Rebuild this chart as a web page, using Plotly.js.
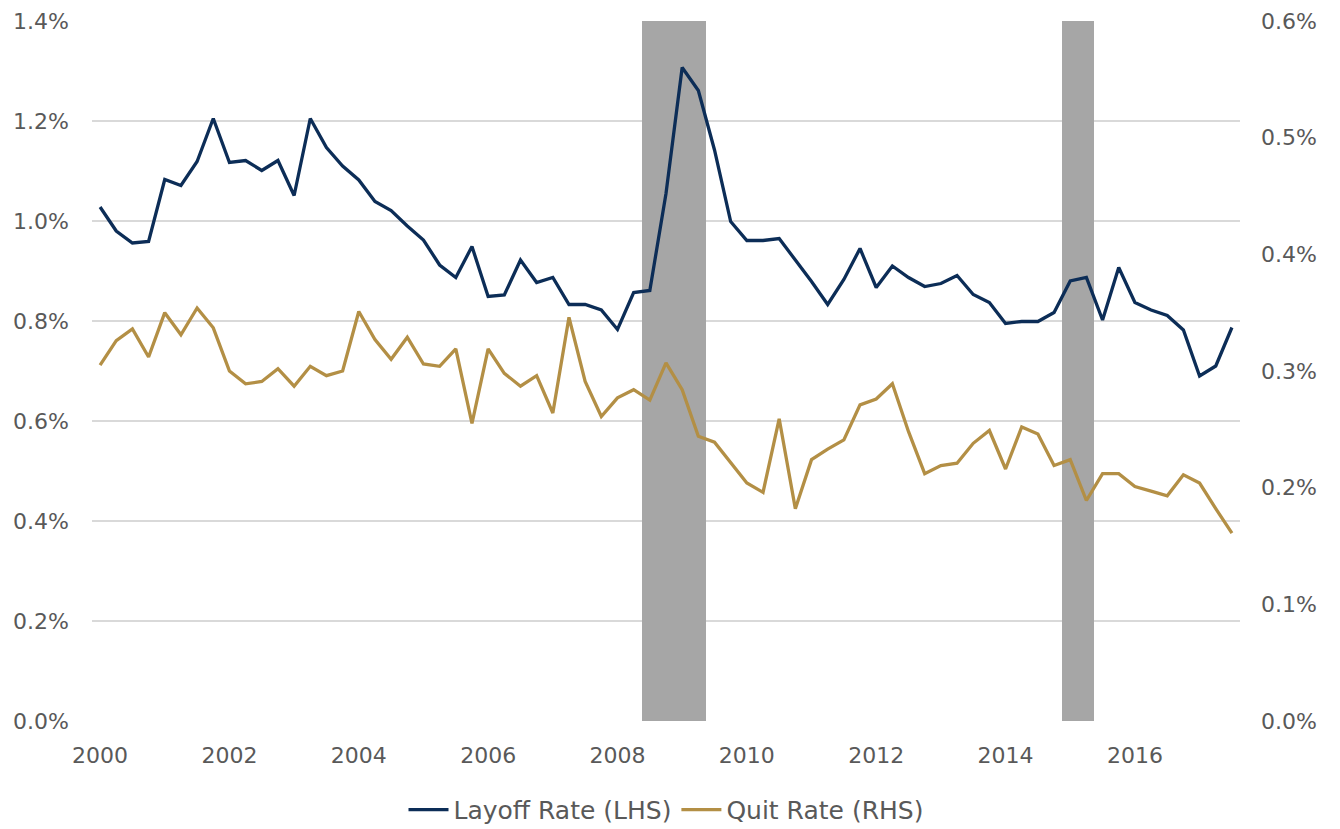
<!DOCTYPE html>
<html>
<head>
<meta charset="utf-8">
<script src="https://cdn.plot.ly/plotly-3.0.1.min.js"></script>
<style>html,body{margin:0;padding:0;background:#fff;}#chart{width:1340px;height:829px;}</style>
</head>
<body>
<div id="chart"></div>
<script>
// Quarterly categories 2000Q1 .. 2017Q3
var quarters = [];
for (var yr = 2000; yr <= 2017; yr++) {
  for (var q = 1; q <= 4; q++) {
    if (yr === 2017 && q > 3) break;
    quarters.push(yr + "Q" + q);
  }
}

// Layoff rate (LHS, %)
var layoffRate = [
  1.028, 0.980, 0.956, 0.959, 1.083, 1.071, 1.119, 1.205, 1.117, 1.121,
  1.101, 1.121, 1.051, 1.205, 1.147, 1.110, 1.082, 1.039, 1.021, 0.990,
  0.962, 0.912, 0.887, 0.949, 0.849, 0.852, 0.922, 0.877, 0.887, 0.833,
  0.833, 0.822, 0.783, 0.857, 0.861, 1.055, 1.307, 1.261, 1.142, 0.999,
  0.961, 0.961, 0.965, 0.922, 0.879, 0.833, 0.883, 0.945, 0.867, 0.910,
  0.887, 0.869, 0.875, 0.891, 0.853, 0.837, 0.795, 0.799, 0.799, 0.817,
  0.880, 0.887, 0.802, 0.907, 0.837, 0.822, 0.811, 0.782, 0.690, 0.710,
  0.787
];

// Quit rate (RHS, %)
var quitRate = [
  0.305, 0.326, 0.336, 0.312, 0.350, 0.331, 0.354, 0.337, 0.300, 0.289,
  0.291, 0.302, 0.287, 0.304, 0.296, 0.300, 0.351, 0.327, 0.310, 0.329,
  0.306, 0.304, 0.319, 0.255, 0.319, 0.298, 0.287, 0.296, 0.264, 0.346,
  0.291, 0.261, 0.277, 0.284, 0.275, 0.307, 0.284, 0.244, 0.239, 0.221,
  0.204, 0.196, 0.259, 0.182, 0.224, 0.233, 0.241, 0.271, 0.276, 0.289,
  0.248, 0.212, 0.219, 0.221, 0.238, 0.249, 0.216, 0.252, 0.246, 0.219,
  0.224, 0.189, 0.212, 0.212, 0.201, 0.197, 0.193, 0.211, 0.204, 0.182,
  0.161
];

// Recession shading quarters
var recessionQuarters = ["2008Q3", "2008Q4", "2009Q1", "2009Q2", "2015Q1", "2015Q2"];
var recessionFlag = recessionQuarters.map(function () { return 1; });

var tickQuarters = ["2000Q1","2002Q1","2004Q1","2006Q1","2008Q1","2010Q1","2012Q1","2014Q1","2016Q1"];
var tickYears = ["2000","2002","2004","2006","2008","2010","2012","2014","2016"];

var leftTicks = [0, 0.2, 0.4, 0.6, 0.8, 1.0, 1.2, 1.4];
var leftTickText = ["0.0%","0.2%","0.4%","0.6%","0.8%","1.0%","1.2%","1.4%"];
var rightTicks = [0, 0.1, 0.2, 0.3, 0.4, 0.5, 0.6];
var rightTickText = ["0.0%","0.1%","0.2%","0.3%","0.4%","0.5%","0.6%"];

var FONT = "'DejaVu Sans', sans-serif";
var GRAY = "#595959";

var traces = [
  {
    type: "bar", x: recessionQuarters, y: recessionFlag, yaxis: "y",
    width: 1, marker: {color: "#a6a6a6", line: {width: 0}},
    showlegend: false, hoverinfo: "skip"
  },
  {
    type: "scatter", mode: "lines", name: "Layoff Rate (LHS)",
    x: quarters, y: layoffRate, yaxis: "y2",
    line: {color: "#0c2d57", width: 3.3}
  },
  {
    type: "scatter", mode: "lines", name: "Quit Rate (RHS)",
    x: quarters, y: quitRate, yaxis: "y3",
    line: {color: "#b38f45", width: 3.3}
  }
];

var layout = {
  width: 1340, height: 829,
  margin: {l: 92, r: 100, t: 21, b: 108, autoexpand: false},
  paper_bgcolor: "#ffffff", plot_bgcolor: "#ffffff",
  font: {family: FONT, color: GRAY, size: 22},
  showlegend: true,
  legend: {
    orientation: "h", x: 0.5, xanchor: "center",
    yref: "container", y: 0.023, yanchor: "middle",
    font: {family: FONT, color: GRAY, size: 25}, itemwidth: 40, tracegroupgap: 0
  },
  bargap: 0,
  xaxis: {
    type: "category", categoryorder: "array", categoryarray: quarters,
    range: [-0.5, quarters.length - 0.5],
    tickmode: "array", tickvals: tickQuarters, ticktext: tickYears,
    showgrid: false, zeroline: false, showline: false, ticks: "",
    ticklabelstandoff: 19, automargin: false,
    tickfont: {family: FONT, color: GRAY, size: 22}
  },
  yaxis: {
    range: [0, 1], visible: false, fixedrange: true, showgrid: false
  },
  yaxis2: {
    range: [0, 1.4], overlaying: "y", side: "left",
    tickmode: "array", tickvals: leftTicks, ticktext: leftTickText,
    showgrid: true, gridcolor: "#d9d9d9", gridwidth: 1.5,
    zeroline: false, showline: false, ticks: "",
    ticklabelstandoff: 22, automargin: false,
    tickfont: {family: FONT, color: GRAY, size: 22}
  },
  yaxis3: {
    range: [0, 0.6], overlaying: "y", side: "right",
    tickmode: "array", tickvals: rightTicks, ticktext: rightTickText,
    showgrid: false, zeroline: false, showline: false, ticks: "",
    ticklabelstandoff: 20, automargin: false,
    tickfont: {family: FONT, color: GRAY, size: 22}
  }
};

Plotly.newPlot("chart", traces, layout, {displayModeBar: false, staticPlot: true});
</script>
</body>
</html>
